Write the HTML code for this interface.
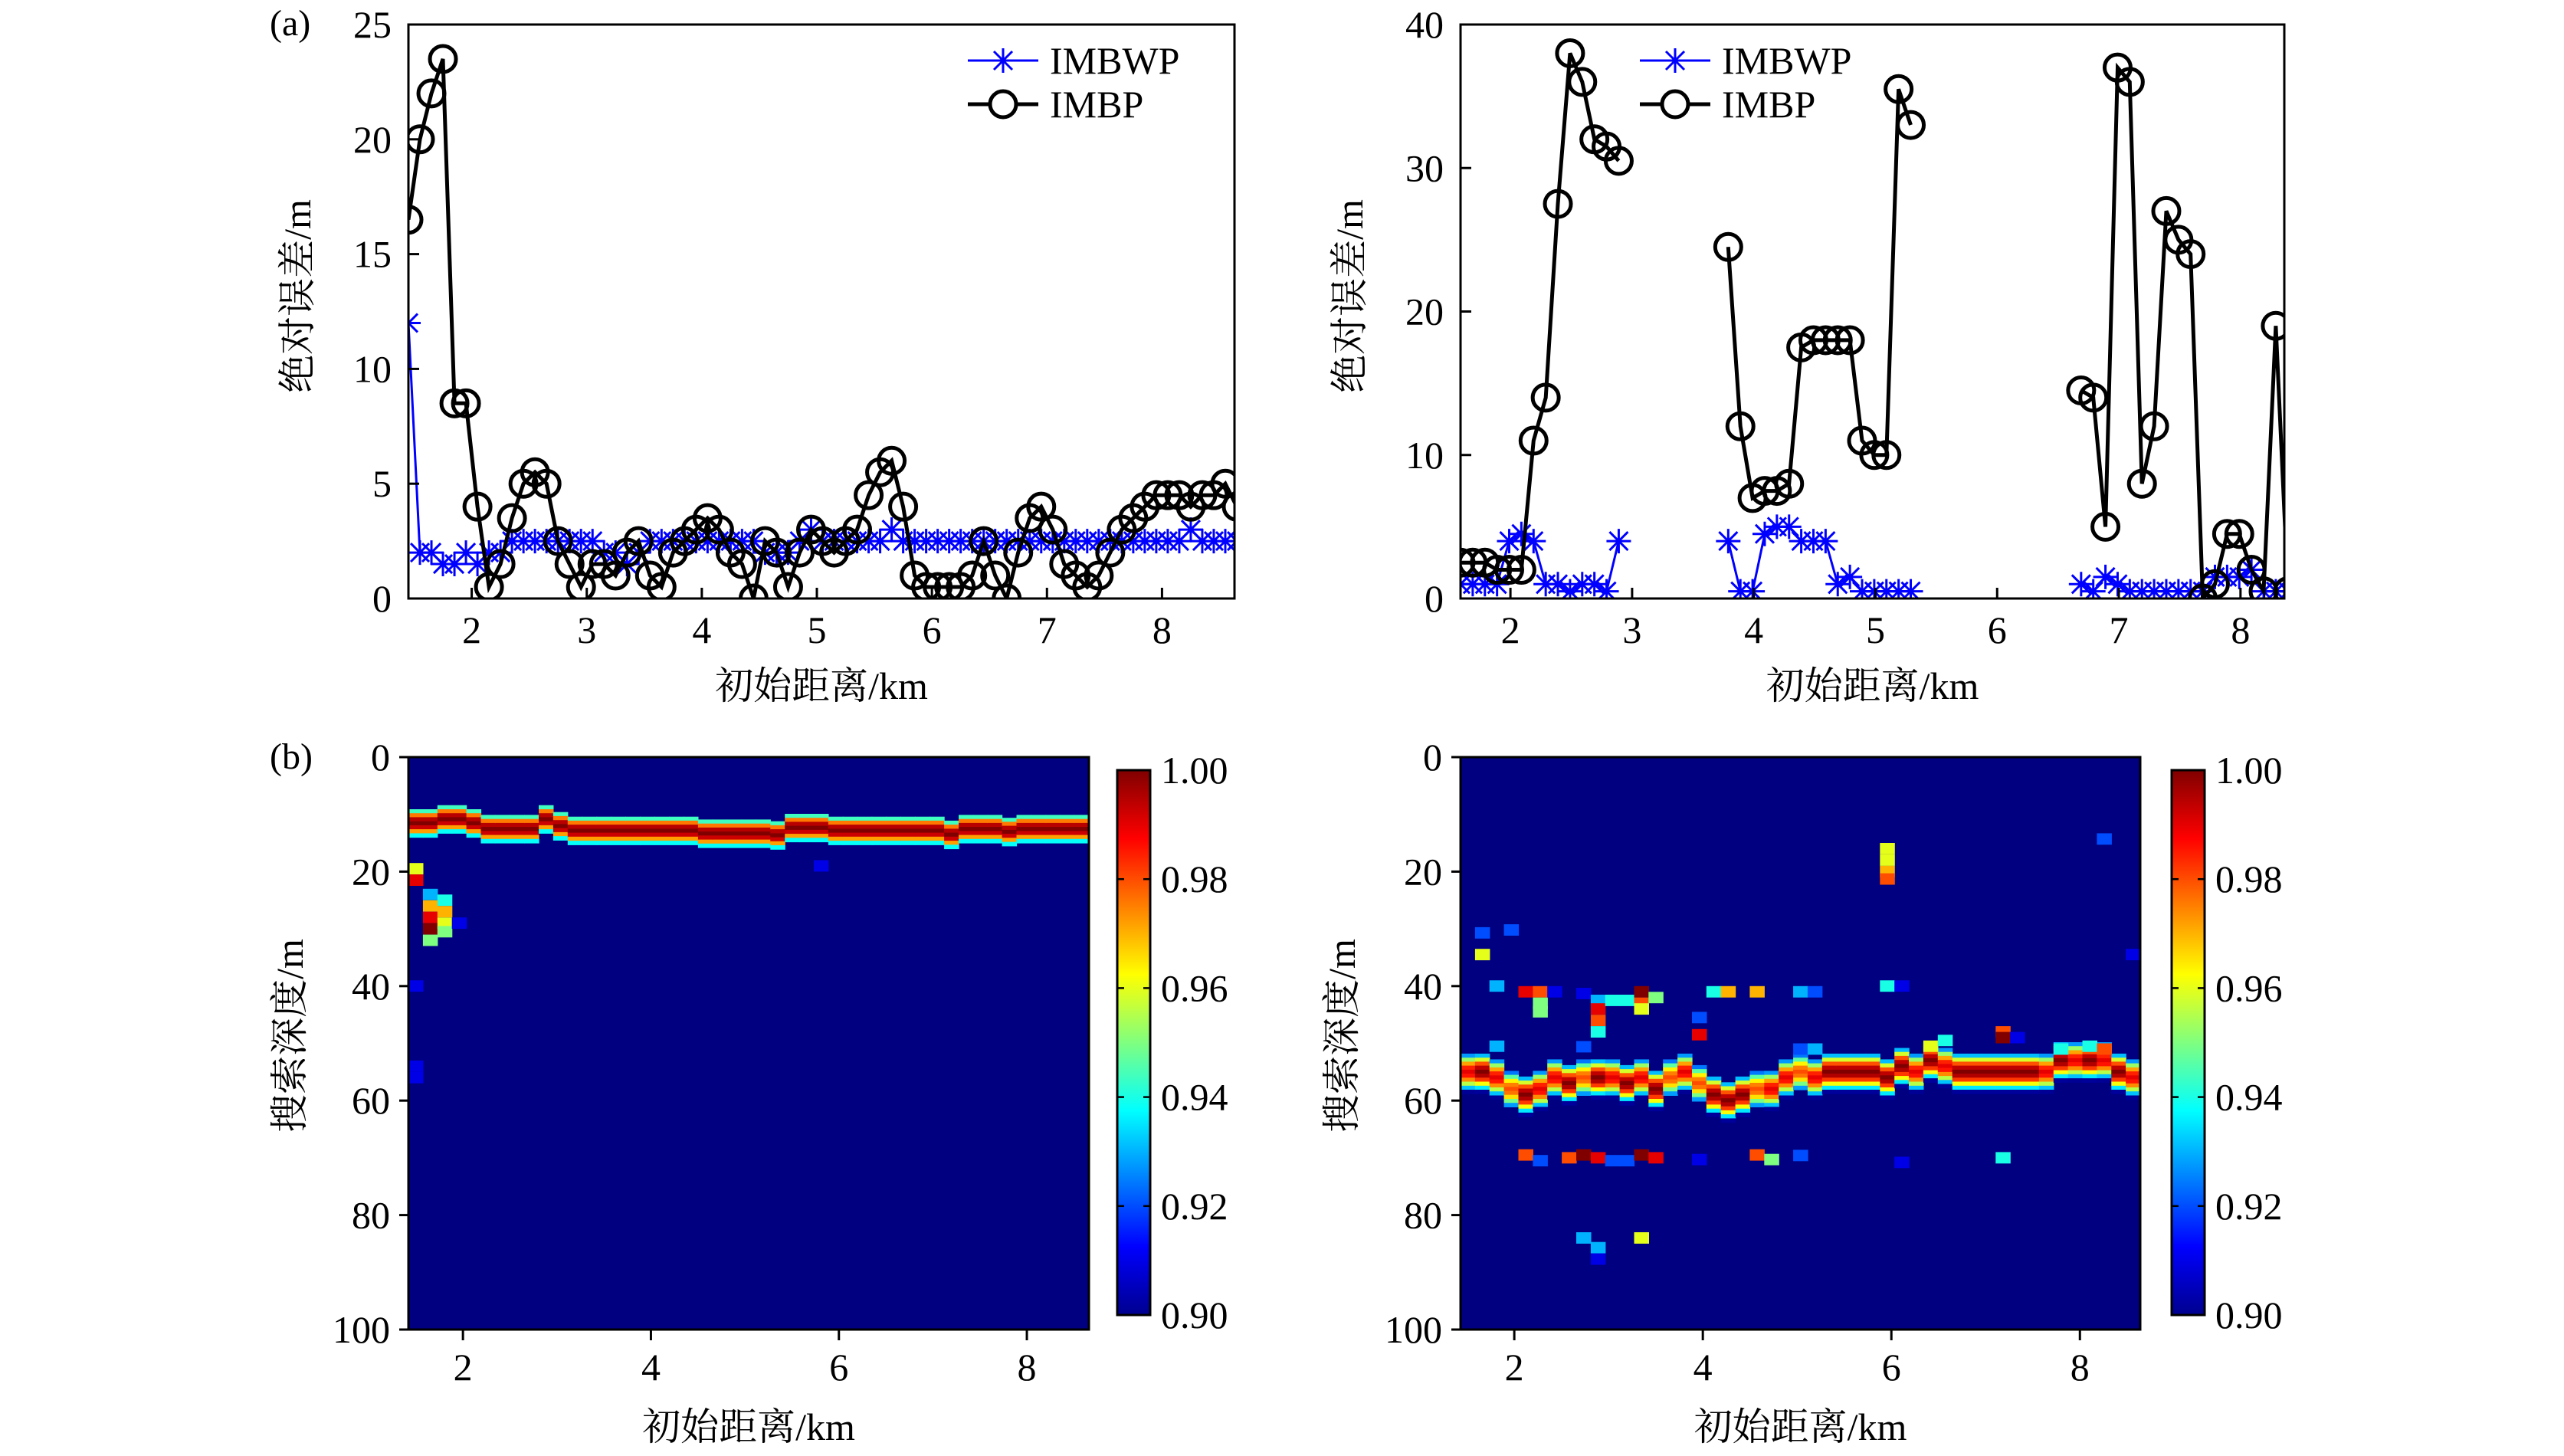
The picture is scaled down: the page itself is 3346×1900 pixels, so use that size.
<!DOCTYPE html>
<html><head><meta charset="utf-8">
<style>
html,body{margin:0;padding:0;background:#fff;}
svg{display:block;}
text{font-family:"Liberation Serif","Noto Serif CJK SC","Noto Sans CJK SC",serif;fill:#000;}
</style></head>
<body>
<svg id="fig" xmlns="http://www.w3.org/2000/svg" width="3346" height="1900" viewBox="0 0 3346 1900">
<defs>
<clipPath id="c1"><rect x="533" y="32" width="1078" height="749"/></clipPath>
<clipPath id="c2"><rect x="1906" y="32" width="1075" height="749"/></clipPath>
<clipPath id="c3"><rect x="533" y="988" width="888" height="747"/></clipPath>
<clipPath id="c4"><rect x="1906" y="988" width="887" height="747"/></clipPath>
<linearGradient id="jet" x1="0" y1="1" x2="0" y2="0">
<stop offset="0" stop-color="#00008f"/><stop offset="0.125" stop-color="#0000ff"/>
<stop offset="0.375" stop-color="#00ffff"/><stop offset="0.625" stop-color="#ffff00"/>
<stop offset="0.875" stop-color="#ff0000"/><stop offset="1" stop-color="#800000"/>
</linearGradient>
</defs>
<text x="352" y="46" font-size="48">(a)</text>
<text x="352" y="1003" font-size="48">(b)</text>
<g id="g1"></g>
<g id="g2"></g>
<g id="g3"></g>
<g id="g4"></g>
</svg>
<script>
// ---------- data ----------
const leftDist = [1.45,1.55,1.65,1.75,1.85,1.95,2.05,2.15,2.25,2.35,2.45,2.55,2.65,2.75,2.85,2.95,3.05,3.15,3.25,3.35,3.45,3.55,3.65,3.75,3.85,3.95,4.05,4.15,4.25,4.35,4.45,4.55,4.65,4.75,4.85,4.95,5.05,5.15,5.25,5.35,5.45,5.55,5.65,5.75,5.85,5.95,6.05,6.15,6.25,6.35,6.45,6.55,6.65,6.75,6.85,6.95,7.05,7.15,7.25,7.35,7.45,7.55,7.65,7.75,7.85,7.95,8.05,8.15,8.25,8.35,8.45,8.55,8.65];
const leftIMBWP = [12,2,2,1.5,1.5,2,1.5,2,2,2.5, 2.5,2.5,2.5,2.5,2.5,2.5,2.5,2,2,1.5, 2,2.5,2.5,2.5,2.5,2.5,2.5,2.5,2.5,2.5, 2.5,2,2,2,2.5,3,2.5,2.5,2.5,2.5, 2.5,2.5,3,2.5,2.5,2.5,2.5,2.5,2.5,2.5, 2.5,2.5,2.5,2.5,2.5,2.5,2.5,2.5,2.5,2.5, 2.5,2.5,2.5,2.5,2.5,2.5,2.5,2.5,3,2.5, 2.5,2.5,2.5];
const leftIMBP = [16.5,20,22,23.5,8.5,8.5,4,0.5,1.5,3.5, 5,5.5,5,2.5,1.5,0.5,1.5,1.5,1,2, 2.5,1,0.5,2,2.5,3,3.5,3,2,1.5, 0,2.5,2,0.5,2,3,2.5,2,2.5,3, 4.5,5.5,6,4,1,0.5,0.5,0.5,0.5,1, 2.5,1,0,2,3.5,4,3,1.5,1,0.5, 1,2,3,3.5,4,4.5,4.5,4.5,4,4.5, 4.5,5,4];
const leftYTicks = [0,5,10,15,20,25];
const xTicks = [2,3,4,5,6,7,8];

const rightDist = [1.59,1.69,1.79,1.89,1.99,2.09,2.19,2.29,2.39,2.49,2.59,2.69,2.79,2.89,2.99,3.09,3.19,3.29,3.39,3.49,3.59,3.69,3.79,3.89,3.99,4.09,4.19,4.29,4.39,4.49,4.59,4.69,4.79,4.89,4.99,5.09,5.19,5.29,5.39,5.49,5.59,5.69,5.79,5.89,5.99,6.09,6.19,6.29,6.39,6.49,6.59,6.69,6.79,6.89,6.99,7.09,7.19,7.29,7.39,7.49,7.59,7.69,7.79,7.89,7.99,8.09,8.19,8.29,8.39];
const rightIMBWP = [1,1,1,1,4,4.5,4,1,1,0.5,1,1,0.5,4, null,null,null,null,null,null,null,null, 4,0.5,0.5,4.5,5,5,4,4,4,1,1.5,0.5,0.5,0.5,0.5,0.5, null,null,null,null,null,null,null,null,null,null,null,null,null, 1,0.5,1.5,1,0.5,0.5,0.5,0.5,0.5,0.5,0.5,1.5,1.5,1.5,2,0.5,0.5,0.5];
const rightIMBP = [2.5,2.5,2.5,2,2,2,11,14,27.5,38,36,32,31.5,30.5, null,null,null,null,null,null,null,null, 24.5,12,7,7.5,7.5,8,17.5,18,18,18,18,11,10,10,35.5,33, null,null,null,null,null,null,null,null,null,null,null,null,null, 14.5,14,5,37,36,8,12,27,25,24,0,1,4.5,4.5,2,0.5,19,0.5];
const rightYTicks = [0,10,20,30,40];

const depthTicks = [0,20,40,60,80,100];
const hmXTicks = [2,4,6,8];
const cbTicks = [0.90,0.92,0.94,0.96,0.98,1.00];

const leftBandCenter = [11.5,11.5,10.8,10.8,11.5,12.5,12.5,12.5,12.5,10.8,12,12.8,12.8,12.8,12.8,12.8,12.8,12.8,12.8,12.8,13.3,13.3,13.3,13.3,13.3,13.6,12.3,12.3,12.3,12.8,12.8,12.8,12.8,12.8,12.8,12.8,12.8,13.5,12.5,12.5,12.5,13,12.5,12.5,12.5,12.5,12.5];
const leftSpotX = [1.48,1.48,1.60,1.60,1.60,1.60,1.60,1.85,1.85,1.85,1.85,1.95,1.54,1.54,1.54,5.75];
const leftSpotD = [19.5,21.5,24,26,28,30,32,25,27,29,30.5,29,40,54,56,19];
const leftSpotV = [0.96,0.99,0.93,0.97,0.99,1.0,0.95,0.94,0.97,0.96,0.95,0.91,0.91,0.91,0.91,0.91];

const rightBandCenter = [55,55,56,58,59,58,56,57,56,56,56,57,56,58,56,55,57,59,60,59,58,58,56,55,56,55,55,55,55,56,54,55,53,54,55,55,55,55,55,55,55,53,53,53,53,55,56];
const rightBandPeak = [0.99,1.0,0.99,0.98,1.0,0.99,0.99,1.0,0.98,1.0,0.99,1.0,0.99,1.0,0.98,0.99,0.98,1.0,1.0,1.0,0.98,0.99,0.99,0.98,0.99,1.0,1.0,1.0,1.0,1.0,1.0,0.99,1.0,0.99,1.0,1.0,1.0,1.0,1.0,1.0,0.99,1.0,0.99,1.0,0.99,1.0,0.99];
const rightSpotX = [1.60,1.60,1.91,1.755,1.755,2.075,2.22,2.22,2.22,2.36,2.67,2.67,2.83,2.83,2.83,2.83,2.98,3.12,3.29,3.29,3.29,3.43,3.90,3.90,4.05,4.21,4.52,4.98,4.98,5.13,5.13,5.89,5.89,5.89,5.89,5.89,6.055,6.365,6.51,7.13,7.13,7.27,7.75,8.06,8.20,8.20,8.51, 2.075,2.22,2.53,2.67,2.83,2.98,3.12,3.29,3.43,3.90,4.52,4.67,4.98,6.055,7.13, 2.67,2.83,2.83,3.29];
const rightSpotD = [30.7,34.5,30.2,40,50.5,41,41,43,44.5,41,41.3,50.6,42.5,44,46,48,42.5,42.5,41,43,44,42,45.5,48.5,41,41,41,41,51,41,51,16,18,20,21.3,40,40,50.5,49.5,48,49,49,51,50.5,14.3,51,34.5, 69.5,70.5,70,69.5,70,70.5,70.5,69.5,70,70.3,69.5,70.3,69.6,70.8,70, 84,85.7,87.7,84];
const rightSpotV = [0.92,0.96,0.92,0.93,0.93,0.99,0.98,0.95,0.95,0.91,0.91,0.92,0.93,0.99,0.98,0.94,0.94,0.94,1.0,0.98,0.96,0.95,0.92,0.99,0.94,0.97,0.97,0.93,0.92,0.92,0.93,0.96,0.96,0.97,0.98,0.94,0.91,0.96,0.94,0.98,1.0,0.91,0.94,0.94,0.92,0.98,0.91, 0.98,0.92,0.98,1.0,0.99,0.92,0.92,1.0,0.99,0.91,0.98,0.95,0.92,0.91,0.94, 0.93,0.93,0.91,0.96];

// ---------- helpers ----------
const NS = "http://www.w3.org/2000/svg";
const FS = 50;
function mk(parent, tag, attrs, txt) {
  const e = document.createElementNS(NS, tag);
  for (const k in attrs) e.setAttribute(k, attrs[k]);
  if (txt !== undefined) e.textContent = txt;
  parent.appendChild(e);
  return e;
}
function lin(d0, d1, r0, r1) { return v => r0 + (v - d0) / (d1 - d0) * (r1 - r0); }
function jet(v) {
  let t = Math.max(0, Math.min(1, (v - 0.9) / 0.1));
  const f = x => Math.max(0, Math.min(1, x));
  const r = f(Math.min(4 * t - 1.5, -4 * t + 4.5));
  const g = f(Math.min(4 * t - 0.5, -4 * t + 3.5));
  const b = f(Math.min(4 * t + 0.5, -4 * t + 2.5));
  return `rgb(${Math.round(r*255)},${Math.round(g*255)},${Math.round(b*255)})`;
}

function lineChart(gid, clip, box, xd, yd, yTicks, dist, blue, black, legX) {
  const g = document.getElementById(gid);
  const X = lin(xd[0], xd[1], box.x, box.x + box.w);
  const Y = lin(yd[0], yd[1], box.y + box.h, box.y);
  const r = mk(g, 'rect', {x: box.x, y: box.y, width: box.w, height: box.h, fill: '#fff', stroke: 'none'});
  
  
  const cg = mk(g, 'g', {'clip-path': `url(#${clip})`});
  
  
  function path(vals) {
    let d = '', pen = false;
    vals.forEach((v, i) => {
      if (v === null) { pen = false; return; }
      d += (pen ? 'L' : 'M') + X(dist[i]).toFixed(1) + ',' + Y(v).toFixed(1);
      pen = true;
    });
    return d;
  }
  const bl = mk(cg, 'path', {d: path(blue), fill: 'none', stroke: '#0000ff', 'stroke-width': 3});
  
  
  blue.forEach((v, i) => {
    if (v === null) return;
    const cx = X(dist[i]), cy = Y(v), s = 16, s2 = 12;
    const m = mk(cg, 'path', {d: `M${cx},${cy-s}V${cy+s}M${cx-s},${cy}H${cx+s}M${cx-s2},${cy-s2}L${cx+s2},${cy+s2}M${cx-s2},${cy+s2}L${cx+s2},${cy-s2}`, stroke: '#0000ff', 'stroke-width': 3, fill: 'none'});
    
    
  });
  const kl = mk(cg, 'path', {d: path(black), fill: 'none', stroke: '#000', 'stroke-width': 5});
  
  
  black.forEach((v, i) => {
    if (v === null) return;
    const c = mk(cg, 'circle', {cx: X(dist[i]), cy: Y(v), r: 17, fill: 'none', stroke: '#000', 'stroke-width': 5});
    
    
  });
  const fr = mk(g, 'rect', {x: box.x, y: box.y, width: box.w, height: box.h, fill: 'none', stroke: '#000', 'stroke-width': 3});
  
  
  xTicks.forEach(t => {
    const x = X(t);
    const tk = mk(g, 'line', {x1: x, x2: x, y1: box.y + box.h, y2: box.y + box.h - 14, stroke: '#000', 'stroke-width': 3});
    
    
    const tl = mk(g, 'text', {x: x, y: box.y + box.h + 58, 'font-size': FS, 'text-anchor': 'middle'}, String(t));
    
    
  });
  yTicks.forEach(t => {
    const y = Y(t);
    const tk = mk(g, 'line', {x1: box.x, x2: box.x + 14, y1: y, y2: y, stroke: '#000', 'stroke-width': 3});
    
    
    const tl = mk(g, 'text', {x: box.x - 22, y: y + 17, 'font-size': FS, 'text-anchor': 'end'}, String(t));
    
    
  });
  const xt = mk(g, 'text', {x: box.x + box.w / 2, y: box.y + box.h + 131, 'font-size': FS, 'text-anchor': 'middle'}, '初始距离/km');
  
  
  const ycx = box.x - 145, ycy = box.y + box.h / 2 - 20;
  const yt = mk(g, 'text', {x: ycx, y: ycy, 'font-size': FS, 'text-anchor': 'middle', transform: `rotate(-90 ${ycx} ${ycy})`, dy: 17}, '绝对误差/m');
  
  
  // legend
  const lg = mk(g, 'g', {});
  
  
  const ly1 = 79, ly2 = 136;
  const e1 = mk(lg, 'g', {});
  
  
  mk(e1, 'line', {x1: legX, x2: legX + 92, y1: ly1, y2: ly1, stroke: '#0000ff', 'stroke-width': 3});
  const mx = legX + 46, s = 16, s2 = 12;
  mk(e1, 'path', {d: `M${mx},${ly1-s}V${ly1+s}M${mx-s2},${ly1-s2}L${mx+s2},${ly1+s2}M${mx-s2},${ly1+s2}L${mx+s2},${ly1-s2}`, stroke: '#0000ff', 'stroke-width': 3});
  mk(e1, 'text', {x: legX + 107, y: ly1 + 17, 'font-size': FS}, 'IMBWP');
  const e2 = mk(lg, 'g', {});
  
  
  mk(e2, 'line', {x1: legX, x2: legX + 92, y1: ly2, y2: ly2, stroke: '#000', 'stroke-width': 5});
  mk(e2, 'circle', {cx: mx, cy: ly2, r: 17, fill: '#fff', stroke: '#000', 'stroke-width': 5});
  mk(e2, 'text', {x: legX + 107, y: ly2 + 17, 'font-size': FS}, 'IMBP');
}

function heatmap(gid, clip, box, xd, centers, peaks, halfW, expo, spX, spD, spV, cbX) {
  const g = document.getElementById(gid);
  const X = lin(xd[0], xd[1], box.x, box.x + box.w);
  const Y = lin(0, 100, box.y, box.y + box.h);
  const bg = mk(g, 'rect', {x: box.x, y: box.y, width: box.w, height: box.h, fill: jet(0.9)});
  
  
  const cg = mk(g, 'g', {'clip-path': `url(#${clip})`});
  
  
  const n = centers.length, colW = (xd[1] - xd[0]) / n;
  const dStep = 0.7;
  centers.forEach((c, i) => {
    const pk = peaks ? peaks[i] : 1.0;
    const x0 = X(xd[0] + i * colW), x1 = X(xd[0] + (i + 1) * colW);
    for (let d = c - halfW - 1; d <= c + halfW + 1; d += dStep) {
      const u = Math.abs(d + dStep / 2 - c) / halfW;
      const v = pk - (pk - 0.895) * Math.pow(u, expo);
      if (v <= 0.902) continue;
      const cell = mk(cg, 'rect', {x: x0.toFixed(1), y: Y(d).toFixed(1), width: (x1 - x0 + 0.6).toFixed(1), height: (Y(dStep) - Y(0) + 0.6).toFixed(1), fill: jet(v)});
      
      
    }
  });
  spX.forEach((sx, k) => {
    const i = Math.floor((sx - xd[0]) / colW);
    const x0 = X(xd[0] + i * colW), x1 = X(xd[0] + (i + 1) * colW);
    const cell = mk(cg, 'rect', {x: x0.toFixed(1), y: Y(spD[k] - 1).toFixed(1), width: (x1 - x0 + 0.6).toFixed(1), height: (Y(2) - Y(0)).toFixed(1), fill: jet(spV[k])});
    
    
  });
  const fr = mk(g, 'rect', {x: box.x, y: box.y, width: box.w, height: box.h, fill: 'none', stroke: '#000', 'stroke-width': 3});
  
  
  hmXTicks.forEach(t => {
    const x = X(t);
    const tk = mk(g, 'line', {x1: x, x2: x, y1: box.y + box.h, y2: box.y + box.h + 14, stroke: '#000', 'stroke-width': 3});
    
    
    const tl = mk(g, 'text', {x: x, y: box.y + box.h + 66, 'font-size': FS, 'text-anchor': 'middle'}, String(t));
    
    
  });
  depthTicks.forEach(t => {
    const y = Y(t);
    const tk = mk(g, 'line', {x1: box.x, x2: box.x - 12, y1: y, y2: y, stroke: '#000', 'stroke-width': 3});
    
    
    const tl = mk(g, 'text', {x: box.x - 24, y: y + 17, 'font-size': FS, 'text-anchor': 'end'}, String(t));
    
    
  });
  const xt = mk(g, 'text', {x: box.x + box.w / 2, y: box.y + box.h + 144, 'font-size': FS, 'text-anchor': 'middle'}, '初始距离/km');
  
  
  const ycx = box.x - 155, ycy = box.y + box.h / 2 - 10;
  const yt = mk(g, 'text', {x: ycx, y: ycy, 'font-size': FS, 'text-anchor': 'middle', transform: `rotate(-90 ${ycx} ${ycy})`, dy: 17}, '搜索深度/m');
  
  
  // colorbar
  const cb = mk(g, 'g', {});
  
  
  const cbY0 = 1005, cbY1 = 1716, cbW = 43;
  mk(cb, 'rect', {x: cbX, y: cbY0, width: cbW, height: cbY1 - cbY0, fill: 'url(#jet)', stroke: '#000', 'stroke-width': 3});
  const CY = lin(0.9, 1.0, cbY1, cbY0);
  cbTicks.forEach(t => {
    const y = CY(t);
    mk(cb, 'line', {x1: cbX + cbW, x2: cbX + cbW - 9, y1: y, y2: y, stroke: '#000', 'stroke-width': 2.5});
    mk(cb, 'line', {x1: cbX, x2: cbX + 9, y1: y, y2: y, stroke: '#000', 'stroke-width': 2.5});
    const tl = mk(cb, 'text', {x: cbX + cbW + 14, y: y + 17, 'font-size': FS}, t.toFixed(2));
    
    
  });
}

lineChart('g1', 'c1', {x: 533, y: 32, w: 1078, h: 749}, [1.45, 8.63], [0, 25], leftYTicks, leftDist, leftIMBWP, leftIMBP, 1263);
lineChart('g2', 'c2', {x: 1906, y: 32, w: 1075, h: 749}, [1.59, 8.36], [0, 40], rightYTicks, rightDist, rightIMBWP, rightIMBP, 2140);
heatmap('g3', 'c3', {x: 533, y: 988, w: 888, h: 747}, [1.42, 8.66], leftBandCenter, null, 2.8, 2, leftSpotX, leftSpotD, leftSpotV, 1458);
heatmap('g4', 'c4', {x: 1906, y: 988, w: 887, h: 747}, [1.43, 8.64], rightBandCenter, rightBandPeak, 3.6, 1.8, rightSpotX, rightSpotD, rightSpotV, 2834);
</script>
</body></html>
